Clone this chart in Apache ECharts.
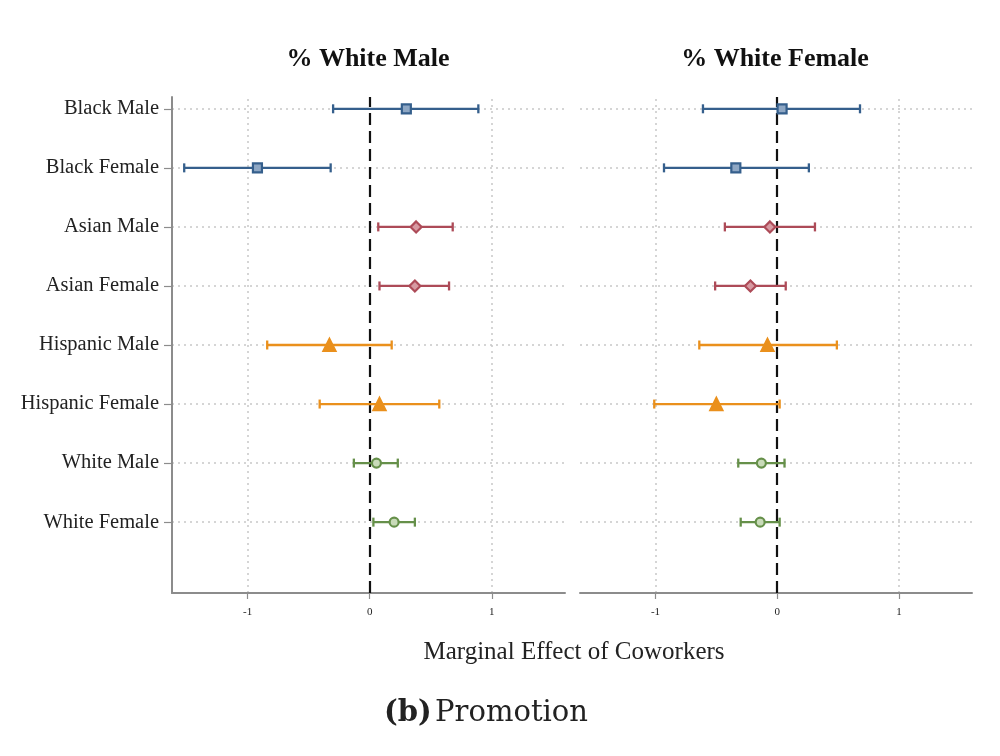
<!DOCTYPE html>
<html>
<head>
<meta charset="utf-8">
<script src="https://cdn.jsdelivr.net/npm/echarts@6/dist/echarts.min.js"></script>
<style>
html,body{margin:0;padding:0;background:#fff;}
#chart{width:1000px;height:756px;}
</style>
</head>
<body>
<div id="chart"></div>
<script>
// ---- data ----
const categories = ['Black Male','Black Female','Asian Male','Asian Female','Hispanic Male','Hispanic Female','White Male','White Female'];
const groupOf = ['Black','Black','Asian','Asian','Hispanic','Hispanic','White','White'];
const panelTitles = ['% White Male','% White Female'];
const xTicks = [-1, 0, 1];

// % White Male panel
const wmEst = [0.30, -0.92, 0.38, 0.37, -0.33, 0.08, 0.055, 0.20];
const wmLo  = [-0.30, -1.52, 0.07, 0.08, -0.84, -0.41, -0.13, 0.03];
const wmHi  = [0.89, -0.32, 0.68, 0.65, 0.18, 0.57, 0.23, 0.37];

// % White Female panel
const wfEst = [0.04, -0.34, -0.06, -0.22, -0.08, -0.50, -0.13, -0.14];
const wfLo  = [-0.61, -0.93, -0.43, -0.51, -0.64, -1.01, -0.32, -0.30];
const wfHi  = [0.68, 0.26, 0.31, 0.07, 0.49, 0.02, 0.06, 0.02];

// ---- styles ----
const groups = ['Black','Asian','Hispanic','White'];
const groupColor = {Black:'#355f8c', Asian:'#ad4b58', Hispanic:'#ea901c', White:'#66904a'};
const groupFill = {Black:'#8ea7c4', Asian:'#d79aa2', Hispanic:'#ea901c', White:'#c9dbb9'};
const groupSymbol = {Black:'rect', Asian:'diamond', Hispanic:'triangle', White:'circle'};
const groupSize = {Black:9, Asian:11, Hispanic:12, White:9};
const serif = '"Liberation Serif","DejaVu Serif",serif';
const yPos = categories.map((c,i)=> categories.length-1-i);
const yTickVals = yPos.slice().reverse();

const panels = [
  {est: wmEst, lo: wmLo, hi: wmHi},
  {est: wfEst, lo: wfLo, hi: wfHi}
];

const grids = [
  {left:172, top:97, width:393, height:496},
  {left:580, top:97, width:392, height:496}
];
const panelCenters = [368, 775];

const xAxes = grids.map((g,i)=>({
  type:'value', gridIndex:i, min:-1.62, max:1.6,
  axisLine:{show:true, onZero:false, lineStyle:{color:'#8c8c8c', width:2}},
  axisTick:{show:true, customValues:xTicks, length:6, lineStyle:{color:'#8c8c8c', width:1.2}},
  axisLabel:{show:true, customValues:xTicks, fontFamily:serif, fontSize:11, color:'#222', margin:14},
  splitLine:{show:false}
}));

const yAxes = grids.map((g,i)=>({
  type:'value', gridIndex:i, min:-1.2, max:7.2,
  axisLine:{show:i===0, onZero:false, lineStyle:{color:'#8c8c8c', width:2}},
  axisTick:{show:i===0, customValues:yTickVals, length:8, lineStyle:{color:'#8c8c8c', width:1.2}},
  axisLabel:{show:i===0, customValues:yTickVals, fontFamily:serif, fontSize:20.5, color:'#222', margin:13,
    formatter:(v)=>{ const idx = categories.length-1-Math.round(v); return categories[idx] || ''; }},
  splitLine:{show:false}
}));

const series = [];
panels.forEach((p,pi)=>{
  // gridlines
  series.push({
    type:'line', xAxisIndex:pi, yAxisIndex:pi, data:[], silent:true, z:0,
    markLine:{
      silent:true, symbol:'none', label:{show:false}, z:0,
      lineStyle:{color:'#c8c8c8', type:[2,4], width:1.5},
      data: yPos.map(y=>({yAxis:y})).concat(xTicks.filter(t=>t!==0).map(t=>({xAxis:t})))
    }
  });
  // dashed zero line
  series.push({
    type:'line', xAxisIndex:pi, yAxisIndex:pi, data:[], silent:true, z:1,
    markLine:{
      silent:true, symbol:'none', label:{show:false}, z:1,
      lineStyle:{color:'#111', type:[12,6], width:2.2},
      data:[{xAxis:0}]
    }
  });
  // error bars & markers per group
  groups.forEach(gname=>{
    const idx = categories.map((c,i)=>i).filter(i=>groupOf[i]===gname);
    series.push({
      type:'custom', xAxisIndex:pi, yAxisIndex:pi, silent:true, z:4,
      data: idx.map(i=>[p.lo[i], p.hi[i], yPos[i]]),
      renderItem:(params, api)=>{
        const a = api.coord([api.value(0), api.value(2)]);
        const b = api.coord([api.value(1), api.value(2)]);
        const style = {stroke:groupColor[gname], lineWidth:2.3};
        const cap = 4.5;
        return {type:'group', children:[
          {type:'line', shape:{x1:a[0],y1:a[1],x2:b[0],y2:b[1]}, style},
          {type:'line', shape:{x1:a[0],y1:a[1]-cap,x2:a[0],y2:a[1]+cap}, style},
          {type:'line', shape:{x1:b[0],y1:b[1]-cap,x2:b[0],y2:b[1]+cap}, style}
        ]};
      }
    });
    series.push({
      type:'scatter', xAxisIndex:pi, yAxisIndex:pi, silent:true, z:5,
      symbol:groupSymbol[gname], symbolSize:groupSize[gname],
      itemStyle:{color:groupFill[gname], borderColor:groupColor[gname], borderWidth:2.2, opacity:1},
      data: idx.map(i=>[p.est[i], yPos[i]])
    });
  });
});

const chart = echarts.init(document.getElementById('chart'), null, {renderer:'canvas'});
chart.setOption({
  backgroundColor:'#fff',
  animation:false,
  grid: grids,
  xAxis: xAxes,
  yAxis: yAxes,
  series: series,
  graphic:[
    {type:'text', x:panelCenters[0], y:59, style:{text:panelTitles[0], font:'bold 26px '+serif, fill:'#111', textAlign:'center', textVerticalAlign:'middle'}},
    {type:'text', x:panelCenters[1], y:59, style:{text:panelTitles[1], font:'bold 26px '+serif, fill:'#111', textAlign:'center', textVerticalAlign:'middle'}},
    {type:'text', x:574, y:652, style:{text:'Marginal Effect of Coworkers', font:'25px '+serif, fill:'#222', textAlign:'center', textVerticalAlign:'middle'}},
    {type:'text', x:486, y:713, style:{
      text:'{b|(b)} {n|Promotion}', textAlign:'center', textVerticalAlign:'middle',
      rich:{b:{font:'bold 29px "DejaVu Serif",serif', fill:'#222'}, n:{font:'29px "DejaVu Serif",serif', fill:'#222'}}
    }}
  ]
});
</script>
</body>
</html>
